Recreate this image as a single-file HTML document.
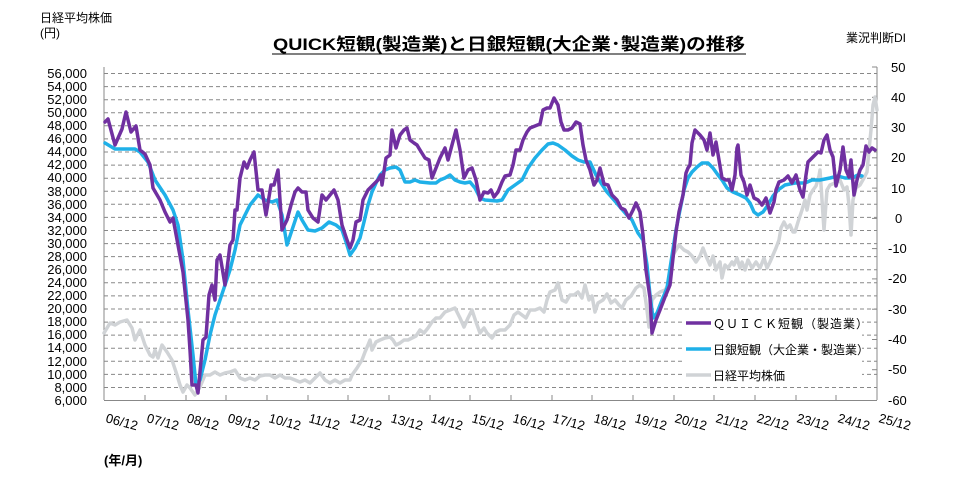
<!DOCTYPE html>
<html><head><meta charset="utf-8"><style>
body{margin:0;background:#fff;}
svg{display:block;font-family:"Liberation Sans","Noto Sans CJK JP",sans-serif;}
</style></head><body>
<svg width="967" height="484" viewBox="0 0 967 484" xmlns="http://www.w3.org/2000/svg">
<rect width="967" height="484" fill="#fff"/>
<text x="40" y="22" font-size="12" fill="#000">日経平均株価</text>
<text x="40" y="37" font-size="12" fill="#000">(円)</text>
<text x="846" y="42" font-size="12" fill="#000">業況判断DI</text>
<text x="273" y="50" font-size="17" font-weight="bold" fill="#000" textLength="472" lengthAdjust="spacingAndGlyphs">QUICK短観(製造業)と日銀短観(大企業･製造業)の推移</text>
<line x1="272" y1="54" x2="746" y2="54" stroke="#000" stroke-width="1"/>
<g stroke="#888" stroke-width="1" stroke-dasharray="4,3">
<line x1="104" x2="877" y1="73.5" y2="73.5"/><line x1="104" x2="877" y1="86.6" y2="86.6"/><line x1="104" x2="877" y1="99.7" y2="99.7"/><line x1="104" x2="877" y1="112.7" y2="112.7"/><line x1="104" x2="877" y1="125.8" y2="125.8"/><line x1="104" x2="877" y1="138.9" y2="138.9"/><line x1="104" x2="877" y1="152" y2="152"/><line x1="104" x2="877" y1="165.1" y2="165.1"/><line x1="104" x2="877" y1="178.2" y2="178.2"/><line x1="104" x2="877" y1="191.2" y2="191.2"/><line x1="104" x2="877" y1="204.3" y2="204.3"/><line x1="104" x2="877" y1="217.4" y2="217.4"/><line x1="104" x2="877" y1="230.5" y2="230.5"/><line x1="104" x2="877" y1="243.6" y2="243.6"/><line x1="104" x2="877" y1="256.6" y2="256.6"/><line x1="104" x2="877" y1="269.7" y2="269.7"/><line x1="104" x2="877" y1="282.8" y2="282.8"/><line x1="104" x2="877" y1="295.9" y2="295.9"/><line x1="104" x2="877" y1="309" y2="309"/><line x1="104" x2="877" y1="322.1" y2="322.1"/><line x1="104" x2="877" y1="335.1" y2="335.1"/><line x1="104" x2="877" y1="348.2" y2="348.2"/><line x1="104" x2="877" y1="361.3" y2="361.3"/><line x1="104" x2="877" y1="374.4" y2="374.4"/><line x1="104" x2="877" y1="387.5" y2="387.5"/>
</g>
<g stroke="#888" stroke-width="1" fill="none">
<line x1="104" y1="67" x2="104" y2="400"/>
<line x1="877" y1="67" x2="877" y2="400"/>
<line x1="104" y1="400.5" x2="877" y2="400.5"/>
<line x1="872" x2="877" y1="67" y2="67"/><line x1="872" x2="877" y1="97.3" y2="97.3"/><line x1="872" x2="877" y1="127.5" y2="127.5"/><line x1="872" x2="877" y1="157.8" y2="157.8"/><line x1="872" x2="877" y1="188.1" y2="188.1"/><line x1="872" x2="877" y1="218.4" y2="218.4"/><line x1="872" x2="877" y1="248.6" y2="248.6"/><line x1="872" x2="877" y1="278.9" y2="278.9"/><line x1="872" x2="877" y1="309.2" y2="309.2"/><line x1="872" x2="877" y1="339.5" y2="339.5"/><line x1="872" x2="877" y1="369.7" y2="369.7"/>
<line x1="145" x2="145" y1="395" y2="400"/><line x1="186" x2="186" y1="395" y2="400"/><line x1="226" x2="226" y1="395" y2="400"/><line x1="267" x2="267" y1="395" y2="400"/><line x1="308" x2="308" y1="395" y2="400"/><line x1="348" x2="348" y1="395" y2="400"/><line x1="389" x2="389" y1="395" y2="400"/><line x1="430" x2="430" y1="395" y2="400"/><line x1="470" x2="470" y1="395" y2="400"/><line x1="511" x2="511" y1="395" y2="400"/><line x1="552" x2="552" y1="395" y2="400"/><line x1="592" x2="592" y1="395" y2="400"/><line x1="633" x2="633" y1="395" y2="400"/><line x1="674" x2="674" y1="395" y2="400"/><line x1="714" x2="714" y1="395" y2="400"/><line x1="755" x2="755" y1="395" y2="400"/><line x1="796" x2="796" y1="395" y2="400"/><line x1="836" x2="836" y1="395" y2="400"/>
</g>
<g font-size="13" fill="#000" text-anchor="end">
<text x="87" y="78">56,000</text><text x="87" y="91">54,000</text><text x="87" y="104">52,000</text><text x="87" y="117">50,000</text><text x="87" y="130">48,000</text><text x="87" y="143">46,000</text><text x="87" y="156">44,000</text><text x="87" y="169">42,000</text><text x="87" y="182">40,000</text><text x="87" y="196">38,000</text><text x="87" y="209">36,000</text><text x="87" y="222">34,000</text><text x="87" y="235">32,000</text><text x="87" y="248">30,000</text><text x="87" y="261">28,000</text><text x="87" y="274">26,000</text><text x="87" y="287">24,000</text><text x="87" y="300">22,000</text><text x="87" y="313">20,000</text><text x="87" y="326">18,000</text><text x="87" y="339">16,000</text><text x="87" y="352">14,000</text><text x="87" y="366">12,000</text><text x="87" y="379">10,000</text><text x="87" y="392">8,000</text><text x="87" y="405">6,000</text>
</g>
<g font-size="13" fill="#000">
<text x="891" y="72">50</text><text x="891" y="102">40</text><text x="891" y="132">30</text><text x="891" y="162">20</text><text x="891" y="193">10</text><text x="895" y="223">0</text><text x="888" y="253">-10</text><text x="888" y="283">-20</text><text x="888" y="314">-30</text><text x="888" y="344">-40</text><text x="888" y="374">-50</text><text x="888" y="405">-60</text>
</g>
<g font-size="13" fill="#000">
<text transform="translate(105,422) rotate(15)">06/12</text><text transform="translate(146,422) rotate(15)">07/12</text><text transform="translate(186,422) rotate(15)">08/12</text><text transform="translate(227,422) rotate(15)">09/12</text><text transform="translate(268,422) rotate(15)">10/12</text><text transform="translate(308,422) rotate(15)">11/12</text><text transform="translate(349,422) rotate(15)">12/12</text><text transform="translate(390,422) rotate(15)">13/12</text><text transform="translate(430,422) rotate(15)">14/12</text><text transform="translate(471,422) rotate(15)">15/12</text><text transform="translate(512,422) rotate(15)">16/12</text><text transform="translate(552,422) rotate(15)">17/12</text><text transform="translate(593,422) rotate(15)">18/12</text><text transform="translate(634,422) rotate(15)">19/12</text><text transform="translate(674,422) rotate(15)">20/12</text><text transform="translate(715,422) rotate(15)">21/12</text><text transform="translate(756,422) rotate(15)">22/12</text><text transform="translate(796,422) rotate(15)">23/12</text><text transform="translate(837,422) rotate(15)">24/12</text><text transform="translate(878,422) rotate(15)">25/12</text>
</g>
<text x="104" y="465" font-size="13" font-weight="bold" fill="#000">(年/月)</text>
<g fill="none" stroke-width="3.5" stroke-linejoin="round" stroke-linecap="round">
<polyline stroke="#d0d3d6" points="104,333 110,323 115,325 120,322 127,320 132,328 135,340 140,330 145,345 150,355 153,357 155,350 158,358 162,345 167,352 172,360 177,375 180,385 183,392 187,385 190,388 195,395 200,387 205,375 210,375 215,372 220,375 225,373 230,372 235,370 240,378 245,380 250,378 255,380 260,376 265,375 270,375 275,378 280,375 285,378 290,378 295,380 300,382 305,380 310,383 315,378 320,373 325,380 330,383 335,380 340,383 345,380 350,380 352,375 357,368 362,360 365,352 368,345 370,340 372,350 376,342 380,340 385,338 390,337 393,340 396,345 400,343 404,340 408,340 412,338 416,336 420,330 424,333 428,328 432,322 436,318 440,318 445,312 450,310 455,308 460,318 464,327 468,318 472,310 476,322 480,333 484,328 487,333 492,338 496,332 500,330 505,330 510,325 514,315 518,312 522,315 526,318 530,310 535,310 540,308 544,312 547,300 550,292 555,290 558,283 562,300 566,302 570,295 574,295 578,292 582,298 585,285 589,300 592,296 595,312 598,303 603,300 607,294 611,303 615,300 619,305 622,308 626,300 631,296 636,288 640,285 644,288 647,310 649,327 652,300 656,295 660,292 665,290 670,282 673,255 676,250 679,245 684,250 688,252 692,256 696,262 700,256 703,248 706,256 710,265 713,256 716,270 720,262 722,278 725,265 728,268 732,262 734,265 737,258 740,268 742,262 745,270 748,260 752,268 756,262 760,268 764,258 767,268 770,262 773,255 776,248 779,240 781,228 784,222 787,228 790,225 793,232 795,232 798,222 802,210 805,200 807,210 810,195 813,190 816,186 819,176 820,170 822,200 824,230 827,190 830,185 835,183 840,180 844,190 847,187 849,205 851,235 853,200 856,188 860,185 864,178 867,172 869,150 871,130 873,105 875,97 877,110"/>
<polyline stroke="#1fb0e8" points="105,143 115,149 135,149 140,152 148,162 155,180 165,195 173,210 178,225 183,260 188,310 193,355 196,385 200,380 205,360 210,335 215,315 220,300 225,285 230,270 235,250 240,225 245,215 250,205 258,195 265,200 272,202 277,200 282,215 287,245 292,230 298,212 302,220 308,230 315,231 322,228 329,222 336,225 342,230 347,245 350,255 355,248 360,238 364,222 368,205 372,192 376,183 380,175 385,170 390,168 396,167 400,170 405,182 410,182 415,180 420,182 430,183 436,183 440,180 445,178 450,175 455,180 460,182 465,183 470,182 475,188 480,198 485,200 497,201 502,200 508,190 515,185 522,180 528,168 535,158 542,150 548,144 553,143 558,145 565,150 572,156 578,160 584,162 590,162 596,175 601,183 607,192 614,200 620,207 626,214 632,220 638,233 643,240 647,265 650,295 653,318 657,313 662,300 667,288 671,262 676,230 680,210 684,190 688,178 692,172 697,167 702,163 708,163 713,168 718,175 722,180 727,188 733,192 740,195 746,198 750,203 754,212 758,215 763,212 768,205 773,196 778,190 785,185 795,183 805,183 812,180 820,180 830,178 838,176 845,178 852,178 858,175 862,176"/>
<polyline stroke="#7030a0" points="105,122 108,119 115,145 122,129 126,112 131,132 136,126 140,150 145,154 150,165 153,188 160,200 165,212 170,222 173,218 178,245 183,272 188,320 190,350 192,385 196,385 198,393 203,340 206,337 209,295 212,285 215,300 217,260 220,255 225,285 230,245 233,240 235,210 237,210 240,178 244,162 247,168 250,160 254,152 258,190 262,190 266,215 271,185 274,185 278,170 282,230 287,220 291,205 295,192 298,188 302,192 306,192 308,210 313,218 318,222 322,195 326,200 330,195 334,190 338,200 342,225 347,240 350,248 353,240 356,222 360,220 363,200 368,190 373,185 378,180 381,175 382,185 386,158 390,155 392,130 396,148 400,135 404,130 407,128 410,140 414,143 417,145 420,150 425,158 429,160 432,178 436,168 440,158 445,148 448,160 452,145 456,130 460,150 464,178 468,170 472,168 476,180 480,200 484,192 488,193 491,190 494,197 498,192 502,182 505,176 510,175 513,165 516,150 520,150 523,140 527,132 530,128 535,126 540,124 543,110 547,108 550,108 554,98 558,105 561,122 564,130 568,130 572,128 576,122 580,124 583,145 586,160 590,170 594,185 597,180 600,168 604,184 608,185 612,195 617,200 621,208 625,210 629,218 633,210 636,203 640,212 643,235 646,270 650,298 652,333 656,320 660,310 665,297 670,285 673,258 676,232 679,212 683,195 686,173 688,168 690,165 692,143 695,130 700,135 704,140 707,150 710,133 713,155 716,142 719,160 722,178 726,180 729,180 732,190 735,175 737,148 738,145 741,175 744,182 747,195 750,185 754,198 758,200 762,205 766,198 770,213 774,202 776,190 779,182 784,180 788,176 792,183 796,175 800,190 803,197 806,175 808,162 812,158 815,155 818,152 821,153 824,140 827,135 830,150 833,157 836,186 840,170 843,147 846,170 849,177 851,160 854,195 857,180 860,170 863,165 866,146 869,152 872,148 875,150"/>
</g>
<rect x="682" y="312" width="180" height="74" fill="#fff"/>
<g stroke-width="3.5">
<line x1="686" y1="323" x2="711" y2="323" stroke="#7030a0"/>
<line x1="686" y1="349" x2="711" y2="349" stroke="#1fb0e8"/>
<line x1="686" y1="375" x2="711" y2="375" stroke="#d0d3d6"/>
</g>
<g font-size="12" fill="#000">
<text x="713" y="328" letter-spacing="1">ＱＵＩＣＫ短観（製造業）</text>
<text x="713" y="354">日銀短観（大企業・製造業）</text>
<text x="713" y="380">日経平均株価</text>
</g>
</svg>
</body></html>
